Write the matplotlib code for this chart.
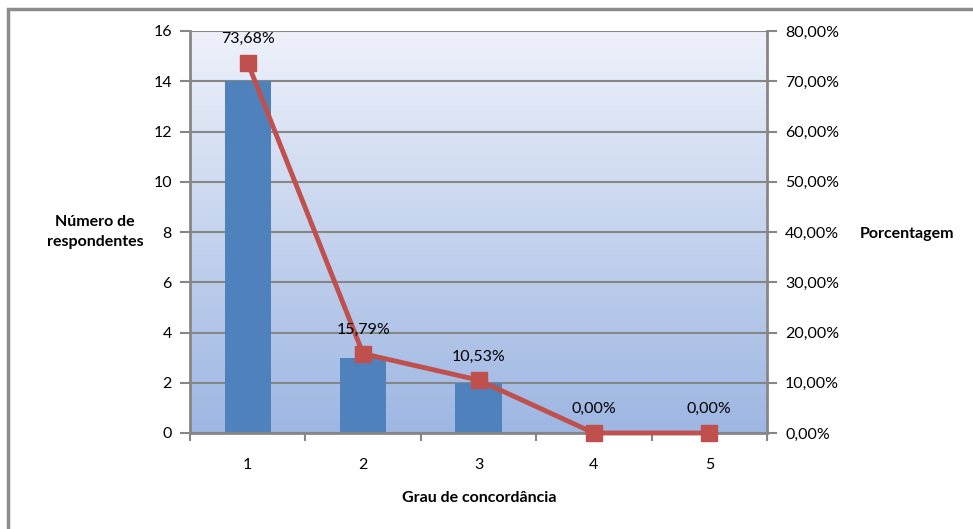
import numpy as np
import matplotlib
matplotlib.use('Agg')
import matplotlib.pyplot as plt
from matplotlib.patches import Rectangle
from matplotlib.colors import LinearSegmentedColormap

categorias = [1, 2, 3, 4, 5]
respondentes = [14, 3, 2, 0, 0]
porcentagem = [73.68, 15.79, 10.53, 0.00, 0.00]

plt.rcParams['font.family'] = ['Lato', 'DejaVu Sans']
plt.rcParams['font.size'] = 11.5

fig = plt.figure(figsize=(9.73, 5.29), dpi=100)
ax = fig.add_axes([190 / 973, 1 - 433 / 529, 577 / 973, 402 / 529])

# moldura (só esquerda e topo aparecem)
fig.patches.append(Rectangle((8 / 973, -0.1), 1.2, 1 - 9 / 529 + 0.1,
                             transform=fig.transFigure, fill=False,
                             edgecolor='#8c8c8c', linewidth=2.5))

# fundo em degradê
cmap = LinearSegmentedColormap.from_list('fundo', ['#9db6e2', '#eef1fa'])
grad = np.linspace(0, 1, 256).reshape(-1, 1)
ax.imshow(grad, cmap=cmap, aspect='auto', origin='lower',
          extent=[0.5, 5.5, 0, 16], zorder=0)

x = np.arange(len(categorias)) + 1
ax.bar(x, respondentes, width=0.4, color='#4f81bd', zorder=2)

ax.set_xlim(0.5, 5.5)
ax.set_ylim(0, 16)
ax.set_yticks(range(0, 17, 2))
ax.set_xticks(x)
ax.set_xticklabels(categorias)
ax.set_xticks(np.arange(0.5, 6, 1), minor=True)
ax.tick_params(axis='x', which='major', length=0, pad=18)
ax.tick_params(axis='x', which='minor', length=6, width=1.5, color='#868686')
ax.tick_params(axis='y', length=7, width=1.5, color='#868686', pad=6)
ax.grid(axis='y', color='#868686', linewidth=1.5, zorder=1)
ax.set_axisbelow(True)
for s in ['top', 'right']:
    ax.spines[s].set_visible(False)
for s in ['left', 'bottom']:
    ax.spines[s].set_color('#868686')
    ax.spines[s].set_linewidth(2)

ax2 = ax.twinx()
ax2.plot(x, porcentagem, color='#c0504d', linewidth=3.5, marker='s',
         markersize=12, zorder=3, clip_on=False)
ax2.set_ylim(0, 80)
ax2.set_yticks(range(0, 81, 10))
ax2.set_yticklabels([f'{v:.2f}%'.replace('.', ',') for v in range(0, 81, 10)])
ax2.tick_params(axis='y', length=7, width=1.5, color='#868686', pad=6)
for s in ['top', 'left', 'bottom']:
    ax2.spines[s].set_visible(False)
ax2.spines['right'].set_color('#868686')
ax2.spines['right'].set_linewidth(2)

for xi, p in zip(x, porcentagem):
    ax2.annotate(f'{p:.2f}%'.replace('.', ','), (xi, p), xytext=(0, 12),
                 textcoords='offset points', ha='center', va='bottom')

fig.text(95 / 973, 1 - 232 / 529, 'Número de\nrespondentes', ha='center',
         va='center', fontweight='bold', linespacing=1.5)
fig.text(907 / 973, 1 - 234 / 529, 'Porcentagem', ha='center', va='center',
         fontweight='bold')
fig.text(479 / 973, 1 - 498 / 529, 'Grau de concordância', ha='center',
         va='center', fontweight='bold')

fig.savefig('out.png', dpi=100)
